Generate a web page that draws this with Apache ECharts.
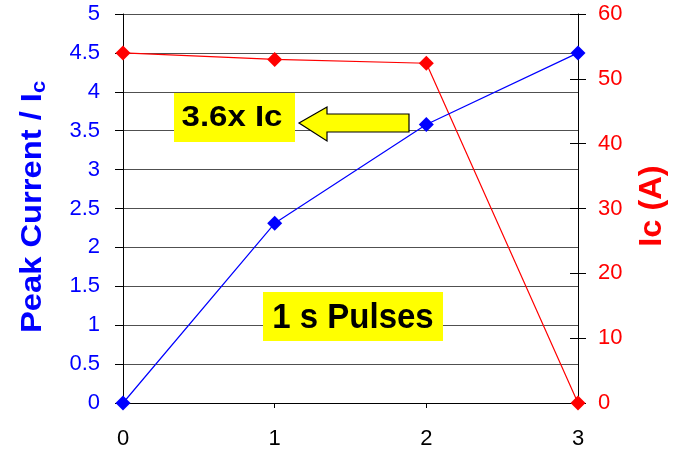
<!DOCTYPE html>
<html><head><meta charset="utf-8">
<script src="https://cdn.jsdelivr.net/npm/echarts@6/dist/echarts.min.js"></script>
<style>html,body{margin:0;padding:0;background:#fff}#c{width:677px;height:451px}</style>
</head><body><div id="c"></div>
<script>
var xValues = [0, 1, 2, 3];
var peakRatio = [0, 2.31, 3.58, 4.5];
var icAmps = [54, 53, 52.4, 0];
var leftTicks = {min: 0, max: 5, interval: 0.5};
var rightTicks = {min: 0, max: 60, interval: 10};
var leftTitle = 'Peak Current / I';
var leftTitleSub = 'c';
var rightTitle = 'Ic (A)';
var note1 = '3.6x Ic';
var note2 = '1 s Pulses';

var chart = echarts.init(document.getElementById('c'));
var F = 'Liberation Sans, Arial, sans-serif';
chart.setOption({
  animation: false,
  grid: {left: 123, right: 99, top: 14, bottom: 48},
  xAxis: {
    type: 'value', min: 0, max: 3, interval: 1,
    axisLine: {show: true, onZero: false, lineStyle: {color: '#000', width: 1}},
    axisTick: {show: true, length: 5, lineStyle: {color: '#000'}},
    axisLabel: {color: '#000', fontSize: 22, fontFamily: F, margin: 25},
    splitLine: {show: false}
  },
  yAxis: [{
    type: 'value', position: 'left', min: leftTicks.min, max: leftTicks.max, interval: leftTicks.interval,
    axisLine: {show: true, lineStyle: {color: '#000'}},
    axisTick: {show: true, length: 8, lineStyle: {color: '#000'}},
    axisLabel: {color: '#0000ff', fontSize: 22, fontFamily: F, margin: 23},
    splitLine: {show: true, lineStyle: {color: '#505050', width: 1}}
  }, {
    type: 'value', position: 'right', min: rightTicks.min, max: rightTicks.max, interval: rightTicks.interval,
    axisLine: {show: true, lineStyle: {color: '#000'}},
    axisTick: {show: true, length: 8, lineStyle: {color: '#000'}},
    axisLabel: {color: '#ff0000', fontSize: 22, fontFamily: F, margin: 20},
    splitLine: {show: false}
  }, {
    type: 'value', position: 'right', min: rightTicks.min, max: rightTicks.max, interval: rightTicks.interval,
    axisLine: {show: false},
    axisTick: {show: true, inside: true, length: 8, lineStyle: {color: '#000'}},
    axisLabel: {show: false},
    splitLine: {show: false}
  }],
  series: [{
    type: 'line', yAxisIndex: 0,
    data: xValues.map(function (x, i) { return [x, peakRatio[i]]; }),
    symbol: 'diamond', symbolSize: 15,
    lineStyle: {color: '#0000ff', width: 1.2},
    itemStyle: {color: '#0000ff'}, z: 3
  }, {
    type: 'line', yAxisIndex: 1,
    data: xValues.map(function (x, i) { return [x, icAmps[i]]; }),
    symbol: 'diamond', symbolSize: 15,
    lineStyle: {color: '#ff0000', width: 1.2},
    itemStyle: {color: '#ff0000'}, z: 2
  }],
  graphic: [
    {type: 'text', x: 33, y: 207, rotation: Math.PI / 2, scaleX: 1.09,
      style: {text: leftTitle + '{sub|' + leftTitleSub + '}', fill: '#0000ff', font: 'bold 30px ' + F,
        align: 'center', verticalAlign: 'middle',
        rich: {sub: {fill: '#0000ff', font: 'bold 20px ' + F, padding: [12, 0, 0, 0]}}}},
    {type: 'text', x: 652, y: 206, rotation: Math.PI / 2, scaleX: 1.05,
      style: {text: rightTitle, fill: '#ff0000', font: 'bold 31px ' + F, align: 'center', verticalAlign: 'middle'}},
    {type: 'rect', shape: {x: 174, y: 93, width: 121, height: 49}, style: {fill: '#ffff00'}, z: 10},
    {type: 'text', x: 232, y: 118, scaleY: 0.9, style: {text: note1, fill: '#000', font: 'bold 33px ' + F, align: 'center', verticalAlign: 'middle'}, z: 11},
    {type: 'polygon', shape: {points: [[299, 123], [327, 107], [327, 114], [409, 114], [409, 132], [327, 132], [327, 141]]},
      style: {fill: '#ffff00', stroke: '#000', lineWidth: 1.2}, z: 10},
    {type: 'rect', shape: {x: 263, y: 292, width: 180, height: 49}, style: {fill: '#ffff00'}, z: 10},
    {type: 'text', x: 353, y: 318, scaleY: 1.05, style: {text: note2, fill: '#000', font: 'bold 33px ' + F, align: 'center', verticalAlign: 'middle'}, z: 11}
  ]
});
</script></body></html>
